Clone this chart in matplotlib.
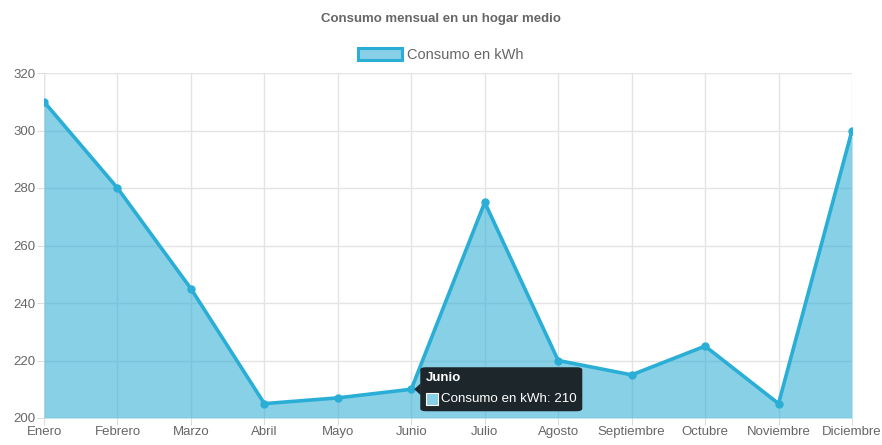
import matplotlib.pyplot as plt
from matplotlib.patches import Patch, FancyBboxPatch, Polygon

meses = ["Enero", "Febrero", "Marzo", "Abril", "Mayo", "Junio", "Julio",
         "Agosto", "Septiembre", "Octubre", "Noviembre", "Diciembre"]
consumo = [310, 280, 245, 205, 207, 210, 275, 220, 215, 225, 205, 300]
y_ticks = [200, 220, 240, 260, 280, 300, 320]

linea = "#2aaed6"
relleno = "#88d0e7"
gris = "#666666"

plt.rcParams['font.family'] = ['Liberation Sans', 'DejaVu Sans']

fig = plt.figure(figsize=(8.82, 4.45), dpi=100)
ax = fig.add_axes([44 / 882, 27 / 445, 808 / 882, 345 / 445])

x = list(range(len(meses)))
# relleno semitransparente: la rejilla se ve a través
ax.fill_between(x, consumo, 200, color="#27aad3", alpha=0.55, lw=0, zorder=2)
ax.plot(x, consumo, color=linea, lw=2.6, marker="o", ms=5, zorder=3)

ax.set_xlim(0, len(meses) - 1)
ax.set_ylim(200, 320)
ax.set_xticks(x)
ax.set_xticklabels(meses)
ax.set_yticks(y_ticks)
ax.tick_params(colors="#dddddd", labelcolor=gris, labelsize=9.5, length=5, pad=1)
ax.grid(True, color="#e4e4e4", lw=1, zorder=0)
for s in ax.spines.values():
    s.set_visible(False)
ax.axhline(200, color="#d8d8d8", lw=1, zorder=1)
ax.axvline(0, color="#d8d8d8", lw=1, zorder=1)

fig.text(0.5, 1 - 19 / 445, "Consumo mensual en un hogar medio", ha="center",
         va="center", fontsize=9.5, fontweight="bold", color=gris)

leg = fig.legend(handles=[Patch(facecolor=relleno, edgecolor=linea, lw=2.2,
                                label="Consumo en kWh")],
                 loc="center", bbox_to_anchor=(0.5, 1 - 55 / 445), frameon=False,
                 fontsize=10.5, handlelength=3.0, handleheight=0.95, handletextpad=0.35)
for t in leg.get_texts():
    t.set_color(gris)

# tooltip sobre Junio
i = meses.index("Junio")
px, py = ax.transData.transform((i, consumo[i]))
inv = fig.transFigure.inverted()
x0, y0 = inv.transform((px + 9, py - 22))
x1, y1 = inv.transform((px + 171, py + 22))
fig.patches.append(FancyBboxPatch((x0, y0), x1 - x0, y1 - y0,
                                  boxstyle="round,pad=0,rounding_size=0.006",
                                  transform=fig.transFigure, fc="#1c262b",
                                  ec="none", zorder=10))
c0 = inv.transform((px + 3, py))
c1 = inv.transform((px + 9.5, py + 6))
c2 = inv.transform((px + 9.5, py - 6))
fig.patches.append(Polygon([c0, c1, c2], closed=True, transform=fig.transFigure,
                           fc="#1c262b", ec="none", zorder=10))
tx, ty = inv.transform((px + 15, py + 11))
fig.text(tx, ty, meses[i], color="white", fontsize=9.5, fontweight="bold",
         va="center", ha="left", zorder=11)
bx0, by0 = inv.transform((px + 15, py - 16))
bx1, by1 = inv.transform((px + 27, py - 4))
fig.patches.append(plt.Rectangle((bx0, by0), bx1 - bx0, by1 - by0,
                                 transform=fig.transFigure, fc=relleno,
                                 ec="white", lw=0.8, zorder=11))
lx, ly = inv.transform((px + 30, py - 10))
fig.text(lx, ly, f"Consumo en kWh: {consumo[i]}", color="white", fontsize=9.6,
         va="center", ha="left", zorder=11)

fig.savefig("out.png", dpi=100)
